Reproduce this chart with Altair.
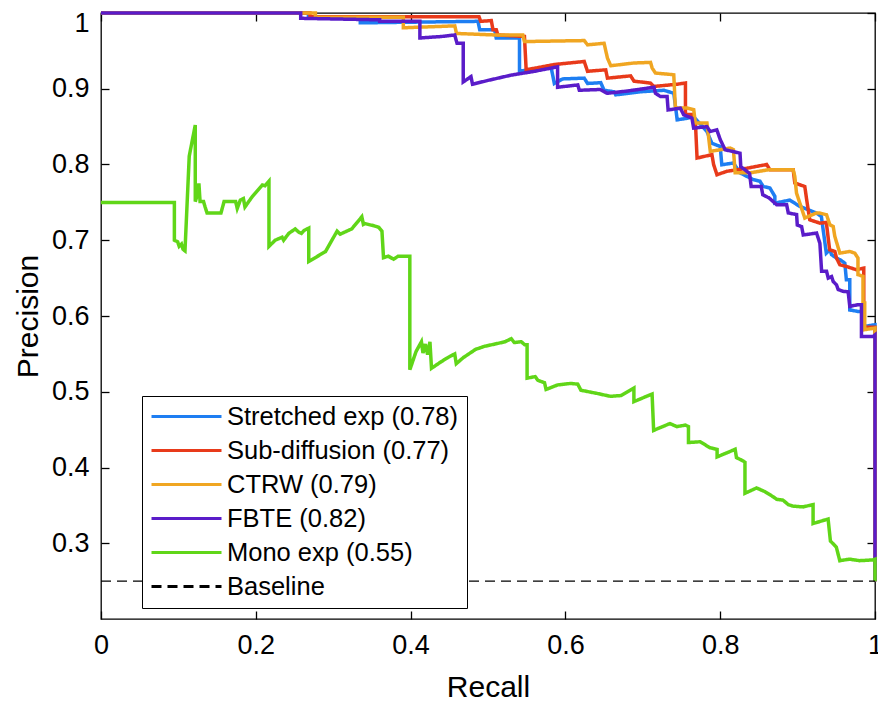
import altair as alt
import pandas as pd

# ---------------- data ----------------
series_names = ["Stretched exp (0.78)", "Sub-diffusion (0.77)", "CTRW (0.79)",
                "FBTE (0.82)", "Mono exp (0.55)", "Baseline"]
series_colors = ["#1e7ef2", "#e83a1a", "#f0a622", "#5a1cc9", "#60d618", "#000000"]

stretched_recall = [0, 0.268, 0.268, 0.335, 0.335, 0.487, 0.4893, 0.5085, 0.5106, 0.5407, 0.5407,
                    0.5514, 0.5814, 0.5857, 0.5964, 0.6243, 0.6286, 0.6457, 0.65, 0.6629, 0.665,
                    0.6972, 0.7272, 0.7401, 0.7444, 0.7572, 0.7658, 0.7829, 0.7893, 0.80, 0.8021,
                    0.8171, 0.8256, 0.8428, 0.8513, 0.8556, 0.8642, 0.8706, 0.8706, 0.89, 0.9028,
                    0.9243, 0.9307, 0.9371, 0.9417, 0.9438, 0.9503, 0.955, 0.961, 0.963, 0.9674,
                    0.9674, 0.9782, 0.9825, 0.9867, 1.0, 1.0]
stretched_precision = [1, 1, 0.993, 0.993, 0.987, 0.989, 0.978, 0.978, 0.967, 0.967, 0.923,
                       0.925, 0.929, 0.907, 0.913, 0.914, 0.907, 0.908, 0.898, 0.896, 0.892,
                       0.896, 0.898, 0.894, 0.859, 0.861, 0.863, 0.8436, 0.828, 0.8238, 0.7996,
                       0.802, 0.789, 0.780, 0.778, 0.771, 0.769, 0.758, 0.749, 0.753, 0.7447,
                       0.7359, 0.7315, 0.683, 0.6874, 0.681, 0.6764, 0.6742, 0.6698, 0.648, 0.648,
                       0.608, 0.606, 0.606, 0.5863, 0.5885, 0.25]

subdiff_recall = [0, 0.27, 0.27, 0.4884, 0.4906, 0.5043, 0.5064, 0.5107, 0.5128, 0.5471, 0.5493,
                  0.5857, 0.6243, 0.6286, 0.6521, 0.6543, 0.6843, 0.6886, 0.71, 0.7143, 0.7443,
                  0.7551, 0.7551, 0.7637, 0.768, 0.7701, 0.7808, 0.7893, 0.7915, 0.7958, 0.8086,
                  0.8343, 0.86, 0.8643, 0.8943, 0.8964, 0.9093, 0.9114, 0.9157, 0.9288, 0.9371,
                  0.9414, 0.9481, 0.9503, 0.9546, 0.9632, 0.9696, 0.976, 0.9855, 0.9855, 1.0, 1.0]
subdiff_precision = [1, 1, 0.995, 0.995, 0.989, 0.990, 0.978, 0.978, 0.971, 0.969, 0.925,
                     0.932, 0.936, 0.923, 0.925, 0.914, 0.917, 0.910, 0.9075, 0.903, 0.906,
                     0.9075, 0.866, 0.866, 0.855, 0.8085, 0.811, 0.813, 0.800, 0.7865, 0.791,
                     0.795, 0.800, 0.793, 0.793, 0.7755, 0.771, 0.7557, 0.727, 0.7226, 0.7235,
                     0.6874, 0.6852, 0.6764, 0.6676, 0.6654, 0.6632, 0.661, 0.6632, 0.585, 0.585, 0.25]

ctrw_recall = [0, 0.277, 0.277, 0.3906, 0.3906, 0.4571, 0.4593, 0.5085, 0.545, 0.5471, 0.6243,
               0.6286, 0.65, 0.6543, 0.6586, 0.6886, 0.71, 0.7121, 0.7164, 0.74, 0.7421, 0.7572,
               0.7658, 0.7679, 0.7829, 0.7872, 0.8129, 0.8171, 0.8193, 0.8386, 0.862, 0.8943,
               0.8964, 0.8986, 0.9093, 0.9243, 0.9288, 0.9374, 0.9417, 0.946, 0.9481, 0.9546,
               0.9674, 0.9739, 0.978, 0.978, 0.9845, 0.9845, 0.9867, 0.9867, 1.0, 1.0]
ctrw_precision = [1, 1, 0.9945, 0.9945, 0.9805, 0.983, 0.973, 0.971, 0.971, 0.9623, 0.9636,
                  0.958, 0.960, 0.9405, 0.9304, 0.934, 0.9348, 0.9273, 0.9207, 0.9185, 0.8745, 0.8745,
                  0.8723, 0.8547, 0.8547, 0.8173, 0.8217, 0.8195, 0.789, 0.789, 0.793, 0.793,
                  0.7843, 0.7623, 0.7293, 0.736, 0.7359, 0.7336, 0.7204, 0.7182, 0.705, 0.683,
                  0.6852, 0.683, 0.6764, 0.6546, 0.6524, 0.6173, 0.6173, 0.582, 0.584, 0.25]

fbte_recall = [0, 0.258, 0.258, 0.36, 0.36, 0.412, 0.412, 0.44, 0.457, 0.46, 0.468, 0.468,
               0.478, 0.480, 0.50, 0.53, 0.56, 0.5899, 0.5899, 0.616, 0.618, 0.645, 0.654, 0.68,
               0.7144, 0.7164, 0.7228, 0.7314, 0.7327, 0.7485, 0.7528, 0.7635, 0.7657, 0.7828,
               0.787, 0.7956, 0.80, 0.8063, 0.8256, 0.8266, 0.832, 0.838, 0.840, 0.853, 0.855,
               0.863, 0.8729, 0.8858, 0.888, 0.8987, 0.8996, 0.9052, 0.9073, 0.9245, 0.9288,
               0.931, 0.9374, 0.9396, 0.9439, 0.946, 0.9503, 0.9524, 0.9589, 0.9653, 0.9674,
               0.9782, 0.9825, 0.9825, 0.9975, 1.0, 1.0]
fbte_precision = [1, 1, 0.993, 0.991, 0.989, 0.989, 0.967, 0.969, 0.971, 0.960, 0.960, 0.909,
                  0.916, 0.906, 0.911, 0.918, 0.923, 0.929, 0.902, 0.905, 0.898, 0.899, 0.894, 0.897,
                  0.902, 0.894, 0.8897, 0.8897, 0.872, 0.8744, 0.8656, 0.8612, 0.848, 0.850,
                  0.8436, 0.8458, 0.833, 0.8195, 0.815, 0.797, 0.793, 0.788, 0.771, 0.771, 0.760,
                  0.756, 0.747, 0.747, 0.736, 0.734, 0.720, 0.718, 0.707, 0.7095, 0.696,
                  0.659, 0.659, 0.650, 0.652, 0.6456, 0.641, 0.635, 0.6325, 0.632, 0.6127,
                  0.615, 0.615, 0.573, 0.573, 0.575, 0.25]

mono_recall = [0, 0.0948, 0.0948, 0.099, 0.101, 0.104, 0.106, 0.1085, 0.114, 0.1218, 0.1218,
               0.1245, 0.1265, 0.128, 0.1325, 0.1345, 0.137, 0.155, 0.159, 0.174, 0.176, 0.180,
               0.184, 0.186, 0.195, 0.2085, 0.212, 0.217, 0.217, 0.225, 0.234, 0.236, 0.2425,
               0.251, 0.255, 0.259, 0.2625, 0.2684, 0.2684, 0.29, 0.305, 0.309, 0.324, 0.337,
               0.339, 0.341, 0.353, 0.359, 0.363, 0.365, 0.371, 0.378, 0.384, 0.399, 0.399,
               0.403, 0.407, 0.414, 0.416, 0.419, 0.422, 0.425, 0.427, 0.440, 0.448, 0.457,
               0.459, 0.468, 0.484, 0.4957, 0.509, 0.522, 0.530, 0.534, 0.543, 0.5475, 0.5505,
               0.5505, 0.561, 0.5645, 0.573, 0.575, 0.590, 0.607, 0.616, 0.620, 0.640, 0.658,
               0.672, 0.6885, 0.6885, 0.712, 0.714, 0.735, 0.744, 0.755, 0.759, 0.759, 0.774,
               0.787, 0.796, 0.796, 0.8193, 0.821, 0.829, 0.832, 0.832, 0.847, 0.858, 0.869,
               0.873, 0.881, 0.888, 0.894, 0.907, 0.920, 0.920, 0.9394, 0.9424, 0.950, 0.9545,
               0.967, 0.980, 0.997, 1.0, 1.0]
mono_precision = [0.75, 0.75, 0.700, 0.698, 0.692, 0.695, 0.688, 0.686, 0.811, 0.852, 0.751,
                  0.760, 0.775, 0.751, 0.751, 0.744, 0.736, 0.736, 0.751, 0.751, 0.742, 0.753,
                  0.755, 0.744, 0.757, 0.773, 0.772, 0.778, 0.692, 0.700, 0.704, 0.700, 0.709,
                  0.715, 0.711, 0.709, 0.713, 0.716, 0.672, 0.685, 0.712, 0.708, 0.715, 0.731,
                  0.721, 0.722, 0.719, 0.717, 0.712, 0.677, 0.679, 0.675, 0.679, 0.679, 0.529,
                  0.541, 0.553, 0.566, 0.551, 0.563, 0.549, 0.566, 0.531, 0.540, 0.545, 0.550,
                  0.537, 0.545, 0.556, 0.560, 0.563, 0.566, 0.570, 0.565, 0.566, 0.562, 0.562,
                  0.518, 0.520, 0.515, 0.512, 0.503, 0.509, 0.511, 0.510, 0.502, 0.498, 0.494,
                  0.495, 0.505, 0.487, 0.497, 0.449, 0.458, 0.454, 0.456, 0.454, 0.433, 0.434,
                  0.426, 0.424, 0.414, 0.424, 0.413, 0.409, 0.407, 0.366, 0.373, 0.368, 0.361,
                  0.358, 0.357, 0.351, 0.349, 0.348, 0.351, 0.326, 0.332, 0.303, 0.295, 0.277,
                  0.279, 0.277, 0.278, 0.279, 0.25]

baseline_recall = [0, 1]
baseline_precision = [0.25, 0.25]

x_ticks = [0, 0.2, 0.4, 0.6, 0.8, 1]
y_ticks = [0.3, 0.4, 0.5, 0.6, 0.7, 0.8, 0.9, 1.0]

# ---------------- table ----------------
all_series = [
    (series_names[0], stretched_recall, stretched_precision),
    (series_names[1], subdiff_recall, subdiff_precision),
    (series_names[2], ctrw_recall, ctrw_precision),
    (series_names[3], fbte_recall, fbte_precision),
    (series_names[4], mono_recall, mono_precision),
    (series_names[5], baseline_recall, baseline_precision),
]
rows = []
for name, rec, prec in all_series:
    for i, (r, p) in enumerate(zip(rec, prec)):
        rows.append({"series": name, "recall": r, "precision": p, "idx": i})
df = pd.DataFrame(rows)

FONT = "Liberation Sans"
TICK = 8

xscale = alt.Scale(domain=[0, 1], nice=False, zero=False)
yscale = alt.Scale(domain=[0.2, 1], nice=False, zero=False)

legend = alt.Legend(
    title=None, orient="none", legendX=41, legendY=383,
    strokeColor="black", fillColor="white", padding=8, cornerRadius=0,
    symbolType="stroke", symbolSize=4900, symbolStrokeWidth=3,
    labelFont=FONT, labelFontSize=25.5, labelColor="black", labelLimit=600,
    labelOffset=4, rowPadding=8, clipHeight=25,
)

color = alt.Color("series:N", scale=alt.Scale(domain=series_names, range=series_colors),
                  legend=legend)
dash = alt.StrokeDash("series:N",
                      scale=alt.Scale(domain=series_names,
                                      range=[[1, 0], [1, 0], [1, 0], [1, 0], [1, 0], [10, 6]]),
                      legend=legend)

ax_bottom = alt.Axis(orient="bottom", values=x_ticks, format=".1~f", title="Recall",
                     offset=-TICK, tickSize=TICK, domain=False, grid=False, labelFlush=False,
                     tickColor="black", tickWidth=1.3, labelFont=FONT, labelFontSize=27,
                     labelColor="black", labelPadding=13, titleFont=FONT, titleFontSize=30,
                     titleFontWeight="normal", titleColor="black", titlePadding=14)
ax_left = alt.Axis(orient="left", values=y_ticks, format=".1~f", title="Precision",
                   offset=-TICK, tickSize=TICK, domain=False, grid=False,
                   tickColor="black", tickWidth=1.3, labelFont=FONT, labelFontSize=27,
                   labelColor="black", labelPadding=12, labelFlush=True, labelFlushOffset=3,
                   titleFont=FONT, titleFontSize=30,
                   titleFontWeight="normal", titleColor="black", titlePadding=8)
ax_top = alt.Axis(orient="top", values=x_ticks, labels=False, title=None,
                  offset=-TICK, tickSize=TICK, domain=False, grid=False,
                  tickColor="black", tickWidth=1.3)
ax_right = alt.Axis(orient="right", values=y_ticks, labels=False, title=None,
                    offset=-TICK, tickSize=TICK, domain=False, grid=False,
                    tickColor="black", tickWidth=1.3)

base = alt.Chart(df)


def layer(name, width, xaxis, yaxis):
    return base.transform_filter(alt.datum.series == name).mark_line(
        strokeWidth=width, clip=False
    ).encode(
        x=alt.X("recall:Q", scale=xscale, axis=xaxis),
        y=alt.Y("precision:Q", scale=yscale, axis=yaxis),
        color=color,
        strokeDash=dash,
        order=alt.Order("idx:Q"),
    )


layers = [
    layer(series_names[0], 3.5, ax_bottom, ax_left),
    layer(series_names[1], 3.5, ax_top, ax_right),
    layer(series_names[2], 3.5, None, None),
    layer(series_names[3], 3.5, None, None),
    layer(series_names[4], 3.5, None, None),
    layer(series_names[5], 1.3, None, None),
]

chart = alt.layer(*layers).resolve_axis(x="independent", y="independent").properties(
    width=774, height=606,
    autosize=alt.AutoSizeParams(type="none"),
    padding={"left": 93, "top": 5, "right": 3, "bottom": 84},
).configure_view(stroke="black", strokeWidth=1.3)

chart.save("out.html", embed_options={"renderer": "svg", "actions": False})
